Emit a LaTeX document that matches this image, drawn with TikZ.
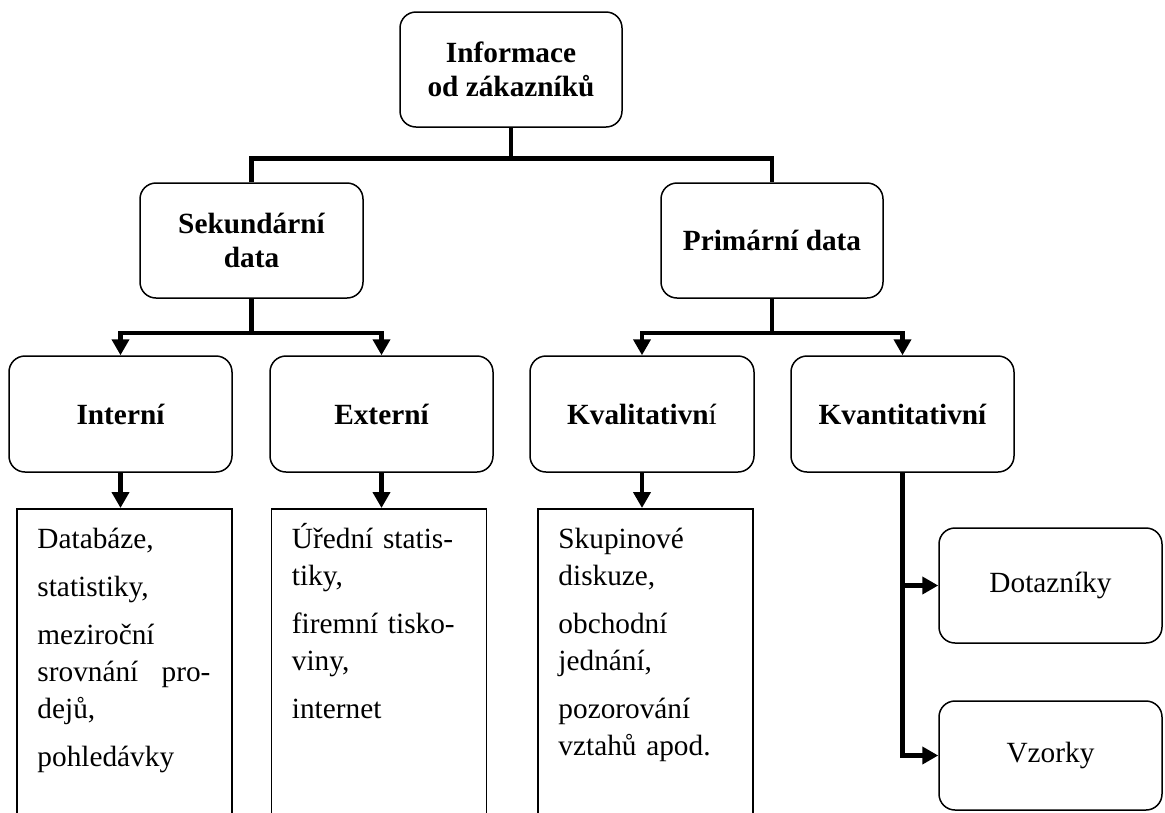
\documentclass[tikz,border=0pt]{standalone}
\usepackage{fontspec}
\setmainfont{Liberation Serif}
\usetikzlibrary{arrows.meta}
\begin{document}
\begin{tikzpicture}[x=1pt,y=-1pt,
  rbox/.style={draw, line width=1.5pt, rounded corners=16pt, minimum width=222pt, minimum height=115pt, align=center, inner sep=0pt, font=\fontsize{29.3}{34}\selectfont\bfseries},
  lbox/.style={rbox, font=\fontsize{29.3}{34}\selectfont},
  tbox/.style={draw, line width=1.5pt, minimum width=215pt, minimum height=330pt, anchor=north, inner sep=0pt},
  ttext/.style={anchor=base west, text width=173pt, align=left, inner sep=0pt, font=\fontsize{29.3}{37}\selectfont},
  conn/.style={line width=4.5pt},
  arr/.style={conn, -{Triangle[length=16pt,width=17pt]}}]
\useasboundingbox (0,0) rectangle (1165,812);
\fill[white] (0,0) rectangle (1165,812);
\clip (0,0) rectangle (1165,812);

\node[rbox] (top) at (511,69.5) {Informace\\od zákazníků};
\node[rbox, minimum width=223pt] (sek) at (251.5,240.5) {Sekundární\\data};
\node[rbox] (prim) at (772,240.5) {Primární data};

\node[rbox, minimum width=223pt, minimum height=116pt] (int) at (120.5,414) {Interní};
\node[rbox, minimum width=223pt, minimum height=116pt] (ext) at (381.5,414) {Externí};
\node[rbox, minimum width=224pt, minimum height=116pt] (kval) at (642,414) {Kvalitativn{\mdseries í}};
\node[rbox, minimum width=223pt, minimum height=116pt] (kvant) at (902.5,414) {Kvantitativní};

\node[lbox, minimum width=223pt] (dot) at (1050.5,585.5) {Dotazníky};
\node[lbox, minimum width=223pt, minimum height=109pt] (vz) at (1050.5,755.5) {Vzorky};

\node[tbox] (intl) at (124.5,508) {};
\node[tbox] (extl) at (379,508) {};
\node[tbox] (kvall) at (645.5,508) {};

\node[ttext] (intt) at ([shift={(21,40)}]intl.north west) {Databáze,\\[11pt] statistiky,\\[11pt] meziroční\\ srovnání\hfill pro-\\ dejů,\\[11pt] pohledávky};
\node[ttext] (extt) at ([shift={(21,40)}]extl.north west) {Úřední statis-\\ tiky,\\[11pt] firemní tisko-\\ viny,\\[11pt] internet};
\node[ttext] (kvalt) at ([shift={(21,40)}]kvall.north west) {Skupinové\\ diskuze,\\[11pt] obchodní\\ jednání,\\[11pt] pozorování\\ vztahů apod.};

\draw[conn] (top.south) -- ++(0,32);
\draw[conn] (sek.north) -- ++(0,-24) -| (prim.north);

\draw[arr] (sek.south) -- ++(0,34) -| (int.north);
\draw[arr] (sek.south) -- ++(0,34) -| (ext.north);
\draw[arr] (prim.south) -- ++(0,34) -| (kval.north);
\draw[arr] (prim.south) -- ++(0,34) -| (kvant.north);

\draw[arr] (int.south) -- (int.south |- intl.north);
\draw[arr] (ext.south) -- (ext.south |- extl.north);
\draw[arr] (kval.south) -- (kval.south |- kvall.north);

\draw[arr] (kvant.south) |- (dot.west);
\draw[arr] (kvant.south) |- (vz.west);
\end{tikzpicture}
\end{document}
